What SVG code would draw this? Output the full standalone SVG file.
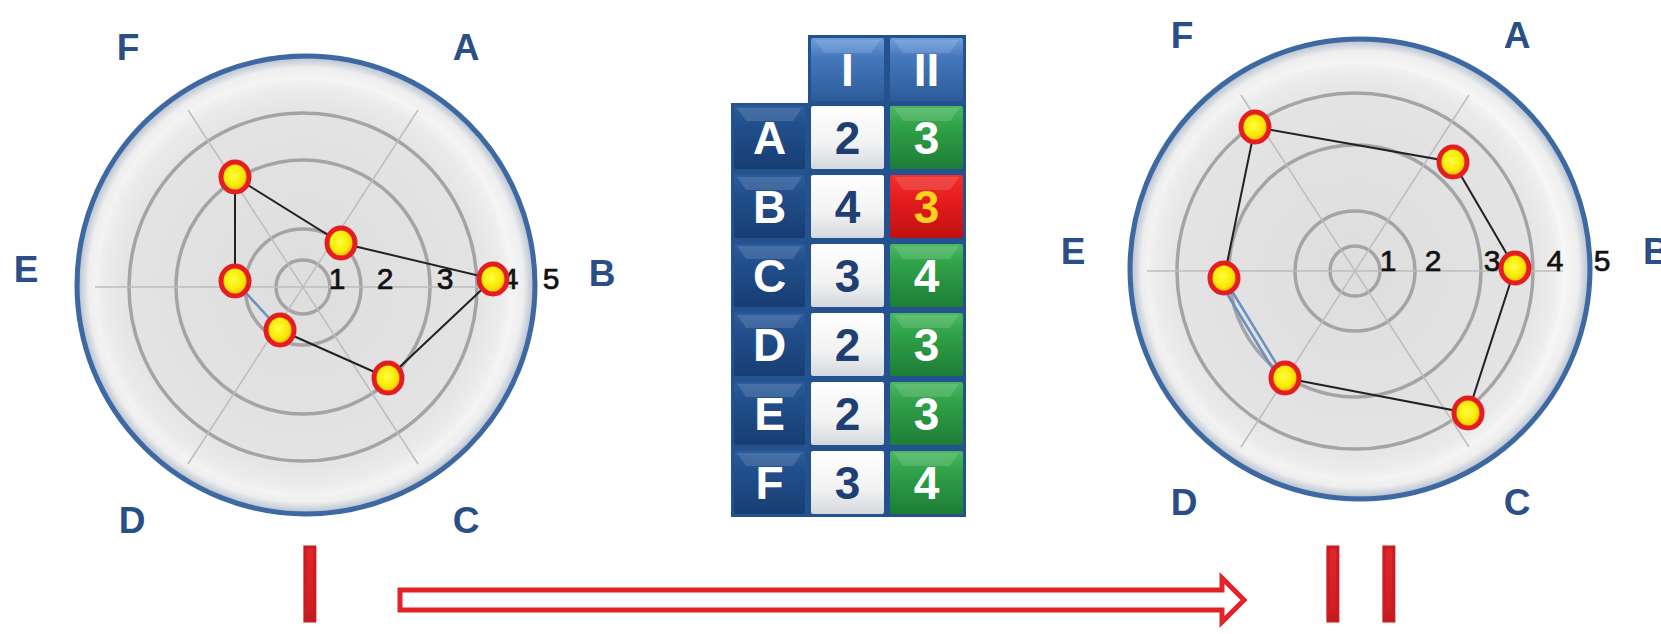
<svg xmlns="http://www.w3.org/2000/svg" width="1661" height="634" viewBox="0 0 1661 634">
<defs>
  <radialGradient id="gBezel" cx="0.5" cy="0.5" r="0.5">
    <stop offset="0" stop-color="#f2f2f2"/>
    <stop offset="0.88" stop-color="#f8f8f8"/>
    <stop offset="0.95" stop-color="#eeeeee"/>
    <stop offset="0.985" stop-color="#c3cbd7"/>
    <stop offset="1" stop-color="#7690b2"/>
  </radialGradient>
  <radialGradient id="gDisk" cx="0.5" cy="0.5" r="0.5">
    <stop offset="0" stop-color="#dedede"/>
    <stop offset="0.82" stop-color="#e3e3e3"/>
    <stop offset="0.95" stop-color="#ebebeb"/>
    <stop offset="1" stop-color="#f3f3f3"/>
  </radialGradient>
  <radialGradient id="gDot" cx="0.45" cy="0.45" r="0.55">
    <stop offset="0" stop-color="#ffff40"/>
    <stop offset="0.65" stop-color="#f8e800"/>
    <stop offset="1" stop-color="#f0a010"/>
  </radialGradient>
  <linearGradient id="gRowHead" x1="0" y1="0" x2="0" y2="1">
    <stop offset="0" stop-color="#2c5c9c"/>
    <stop offset="0.3" stop-color="#214f8c"/>
    <stop offset="1" stop-color="#183d72"/>
  </linearGradient>
  <linearGradient id="gHead" x1="0" y1="0" x2="0" y2="1">
    <stop offset="0" stop-color="#6d9ddb"/>
    <stop offset="0.3" stop-color="#4478bd"/>
    <stop offset="1" stop-color="#2d5b99"/>
  </linearGradient>
  <linearGradient id="gWhite" x1="0" y1="0" x2="0" y2="1">
    <stop offset="0" stop-color="#ffffff"/>
    <stop offset="0.6" stop-color="#f2f2f2"/>
    <stop offset="1" stop-color="#d4d8de"/>
  </linearGradient>
  <linearGradient id="gGreen" x1="0" y1="0" x2="0" y2="1">
    <stop offset="0" stop-color="#4cb862"/>
    <stop offset="0.3" stop-color="#31a34a"/>
    <stop offset="1" stop-color="#1d7d36"/>
  </linearGradient>
  <linearGradient id="gRed" x1="0" y1="0" x2="0" y2="1">
    <stop offset="0" stop-color="#f0302c"/>
    <stop offset="0.4" stop-color="#e41c1c"/>
    <stop offset="1" stop-color="#c01010"/>
  </linearGradient>
  <linearGradient id="gBar" x1="0" y1="0" x2="0" y2="1">
    <stop offset="0" stop-color="#e8282c"/>
    <stop offset="0.7" stop-color="#d01e24"/>
    <stop offset="1" stop-color="#9a1018"/>
  </linearGradient>
  <path id="bev" d="M0,0 H65 L56,13 H9 Z"/>
  <style>
    .axis { font-family: "Liberation Sans", Arial, sans-serif; font-weight: bold; font-size: 37px; fill: #2a4f86; text-anchor: middle; }
    .num { font-family: "Liberation Sans", Arial, sans-serif; font-size: 30px; fill: #111; stroke: #111; stroke-width: 0.7; text-anchor: middle; }
    .bezel { fill: url(#gBezel); stroke: #3d68a2; stroke-width: 5; }
    .disk { fill: url(#gDisk); }
    .ring { fill: none; stroke: #a4a4a4; stroke-width: 3.5; }
    .spoke { stroke: #bdbdbd; stroke-width: 1.5; fill: none; }
    .edge { stroke: #222; stroke-width: 2; fill: none; }
    .edge2 { stroke: #6a8fc2; stroke-width: 2.5; fill: none; }
    .dot { fill: url(#gDot); stroke: #e41e20; stroke-width: 5; }
    .cell-h { fill: url(#gHead); }
    .cell-r { fill: url(#gRowHead); }
    .cell-w { fill: url(#gWhite); }
    .cell-g { fill: url(#gGreen); }
    .cell-red { fill: url(#gRed); }
    .bevel { fill: #ffffff; fill-opacity: 0.13; }
    .tt { font-family: "Liberation Sans", Arial, sans-serif; font-weight: bold; font-size: 46px; text-anchor: middle; }
    .big { font-family: "Liberation Sans", Arial, sans-serif; font-size: 107px; fill: url(#gBar); stroke: #c81c22; stroke-width: 3; }
  </style>
</defs>
<rect width="1661" height="634" fill="#ffffff"/>

<g id="chart-I">
  <circle class="bezel" cx="306" cy="285" r="229"/>
  <circle class="disk" cx="303" cy="287" r="208"/>
  <circle class="ring" cx="303" cy="287" r="27" stroke-width="3"/>
  <circle class="ring" cx="303" cy="287" r="58"/>
  <circle class="ring" cx="303" cy="287" r="127"/>
  <circle class="ring" cx="303" cy="287" r="174"/>
  <line class="spoke" x1="95" y1="287" x2="511" y2="287"/>
  <line class="spoke" x1="188" y1="110" x2="418" y2="464"/>
  <line class="spoke" x1="418" y1="110" x2="188" y2="464"/>
  <text class="num" x="337" y="289">1</text>
  <text class="num" x="385" y="289">2</text>
  <text class="num" x="445" y="289">3</text>
  <text class="num" x="510" y="289">4</text>
  <text class="num" x="551" y="289">5</text>
  <text class="axis" x="466" y="60">A</text>
  <text class="axis" x="602" y="286">B</text>
  <text class="axis" x="466" y="533">C</text>
  <text class="axis" x="132" y="533">D</text>
  <text class="axis" x="26" y="282">E</text>
  <text class="axis" x="128" y="60">F</text>
  <polyline class="edge" points="235,281 235,177 341,243 493,279 388,378 280,330"/>
  <line class="edge2" x1="280" y1="330" x2="235" y2="281"/>
  <ellipse class="dot" cx="341" cy="243" rx="14" ry="15"/>
  <ellipse class="dot" cx="493" cy="279" rx="14" ry="15"/>
  <ellipse class="dot" cx="388" cy="378" rx="14" ry="15"/>
  <ellipse class="dot" cx="280" cy="330" rx="14" ry="15"/>
  <ellipse class="dot" cx="235" cy="281" rx="14" ry="15"/>
  <ellipse class="dot" cx="235" cy="177" rx="14" ry="15"/>
</g>

<g id="chart-II">
  <circle class="bezel" cx="1360" cy="269" r="230"/>
  <circle class="disk" cx="1355" cy="271" r="208"/>
  <circle class="ring" cx="1355" cy="271" r="25" stroke-width="3"/>
  <circle class="ring" cx="1355" cy="271" r="60"/>
  <circle class="ring" cx="1355" cy="271" r="126"/>
  <circle class="ring" cx="1355" cy="271" r="178"/>
  <line class="spoke" x1="1147" y1="271" x2="1563" y2="271"/>
  <line class="spoke" x1="1241" y1="95" x2="1469" y2="447"/>
  <line class="spoke" x1="1469" y1="95" x2="1241" y2="447"/>
  <text class="num" x="1388" y="271">1</text>
  <text class="num" x="1433" y="271">2</text>
  <text class="num" x="1492" y="271">3</text>
  <text class="num" x="1555" y="271">4</text>
  <text class="num" x="1602" y="271">5</text>
  <text class="axis" x="1517" y="48">A</text>
  <text class="axis" x="1643" y="264" style="text-anchor:start">B</text>
  <text class="axis" x="1517" y="515">C</text>
  <text class="axis" x="1184" y="515">D</text>
  <text class="axis" x="1073" y="264">E</text>
  <text class="axis" x="1182" y="48">F</text>
  <polyline class="edge" points="1224,278 1255,127 1453,162 1515,268 1468,413 1285,378"/>
  <line class="edge2" x1="1285" y1="378" x2="1224" y2="278"/>
  <line class="edge2" x1="1279" y1="379" x2="1218" y2="279" stroke-width="1.2"/>
  <ellipse class="dot" cx="1255" cy="127" rx="14" ry="15"/>
  <ellipse class="dot" cx="1453" cy="162" rx="14" ry="15"/>
  <ellipse class="dot" cx="1515" cy="268" rx="14" ry="15"/>
  <ellipse class="dot" cx="1468" cy="413" rx="14" ry="15"/>
  <ellipse class="dot" cx="1285" cy="378" rx="14" ry="15"/>
  <ellipse class="dot" cx="1224" cy="278" rx="14" ry="15"/>
</g>

<g id="table">
  <rect x="808" y="35" width="158" height="70" fill="#24528e"/>
  <rect x="731" y="103" width="235" height="414" fill="#24528e"/>
  <g id="header">
    <rect class="cell-h" x="811" y="38" width="73" height="63" rx="2"/>
    <rect class="cell-h" x="890" y="38" width="73" height="63" rx="2"/>
    <use href="#bev" class="bevel" x="815" y="40"/>
    <use href="#bev" class="bevel" x="894" y="40"/>
    <text class="tt" x="847.5" y="86" fill="#ffffff">I</text>
    <text class="tt" x="926.5" y="86" fill="#ffffff">II</text>
  </g>
  <g id="row-A">
    <rect class="cell-r" x="734" y="106" width="71" height="63" rx="2"/>
    <use href="#bev" class="bevel" x="737" y="108"/>
    <rect class="cell-w" x="811" y="106" width="73" height="63" rx="2"/>
    <rect class="cell-g" x="890" y="106" width="73" height="63" rx="2"/>
    <use href="#bev" class="bevel" x="894" y="108"/>
    <text class="tt" x="769.5" y="154" fill="#ffffff">A</text>
    <text class="tt" x="847.5" y="154" fill="#1f3f73">2</text>
    <text class="tt" x="926.5" y="154" fill="#ffffff">3</text>
  </g>
  <g id="row-B">
    <rect class="cell-r" x="734" y="175" width="71" height="63" rx="2"/>
    <use href="#bev" class="bevel" x="737" y="177"/>
    <rect class="cell-w" x="811" y="175" width="73" height="63" rx="2"/>
    <rect class="cell-red" x="890" y="175" width="73" height="63" rx="2"/>
    <use href="#bev" class="bevel" x="894" y="177"/>
    <text class="tt" x="769.5" y="223" fill="#ffffff">B</text>
    <text class="tt" x="847.5" y="223" fill="#1f3f73">4</text>
    <text class="tt" x="926.5" y="223" fill="#ffd21f">3</text>
  </g>
  <g id="row-C">
    <rect class="cell-r" x="734" y="244" width="71" height="63" rx="2"/>
    <use href="#bev" class="bevel" x="737" y="246"/>
    <rect class="cell-w" x="811" y="244" width="73" height="63" rx="2"/>
    <rect class="cell-g" x="890" y="244" width="73" height="63" rx="2"/>
    <use href="#bev" class="bevel" x="894" y="246"/>
    <text class="tt" x="769.5" y="292" fill="#ffffff">C</text>
    <text class="tt" x="847.5" y="292" fill="#1f3f73">3</text>
    <text class="tt" x="926.5" y="292" fill="#ffffff">4</text>
  </g>
  <g id="row-D">
    <rect class="cell-r" x="734" y="313" width="71" height="63" rx="2"/>
    <use href="#bev" class="bevel" x="737" y="315"/>
    <rect class="cell-w" x="811" y="313" width="73" height="63" rx="2"/>
    <rect class="cell-g" x="890" y="313" width="73" height="63" rx="2"/>
    <use href="#bev" class="bevel" x="894" y="315"/>
    <text class="tt" x="769.5" y="361" fill="#ffffff">D</text>
    <text class="tt" x="847.5" y="361" fill="#1f3f73">2</text>
    <text class="tt" x="926.5" y="361" fill="#ffffff">3</text>
  </g>
  <g id="row-E">
    <rect class="cell-r" x="734" y="382" width="71" height="63" rx="2"/>
    <use href="#bev" class="bevel" x="737" y="384"/>
    <rect class="cell-w" x="811" y="382" width="73" height="63" rx="2"/>
    <rect class="cell-g" x="890" y="382" width="73" height="63" rx="2"/>
    <use href="#bev" class="bevel" x="894" y="384"/>
    <text class="tt" x="769.5" y="430" fill="#ffffff">E</text>
    <text class="tt" x="847.5" y="430" fill="#1f3f73">2</text>
    <text class="tt" x="926.5" y="430" fill="#ffffff">3</text>
  </g>
  <g id="row-F">
    <rect class="cell-r" x="734" y="451" width="71" height="63" rx="2"/>
    <use href="#bev" class="bevel" x="737" y="453"/>
    <rect class="cell-w" x="811" y="451" width="73" height="63" rx="2"/>
    <rect class="cell-g" x="890" y="451" width="73" height="63" rx="2"/>
    <use href="#bev" class="bevel" x="894" y="453"/>
    <text class="tt" x="769.5" y="499" fill="#ffffff">F</text>
    <text class="tt" x="847.5" y="499" fill="#1f3f73">3</text>
    <text class="tt" x="926.5" y="499" fill="#ffffff">4</text>
  </g>
</g>

<g id="label-I">
  <text class="big" x="295" y="621">I</text>
</g>
<g id="label-II">
  <text class="big" x="1318 1374" y="621">II</text>
</g>

<g id="connectors">
  <path d="M400,590 H1222 V578 L1244,600 L1222,622 V610 H400 Z" fill="#ffffff" stroke="#e2232a" stroke-width="5" stroke-linejoin="miter"/>
</g>
</svg>
